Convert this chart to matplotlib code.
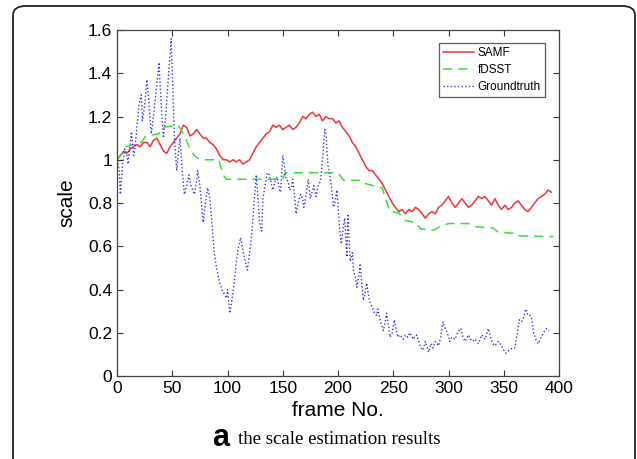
import matplotlib.pyplot as plt
from matplotlib.patches import FancyBboxPatch

# SAMF estimated scale
samf_frame = [0, 3, 6, 9, 12, 15, 18, 21, 24, 27, 30, 33, 36, 39, 42, 45, 48, 51, 54, 57,
              60, 63, 66, 69, 72, 75, 78, 81, 84, 87, 90, 93, 96, 99, 102, 105, 108, 111, 114, 117,
              120, 123, 126, 129, 132, 135, 138, 141, 144, 147, 150, 153, 156, 159, 162, 165, 168, 171, 174, 177,
              180, 183, 186, 189, 192, 195, 198, 201, 204, 207, 210, 213, 216, 219, 222, 225, 228, 231, 234, 237,
              240, 243, 246, 249, 252, 255, 258, 261, 264, 267, 270, 273, 276, 279, 282, 285, 288, 291, 294, 297,
              300, 303, 306, 309, 312, 315, 318, 321, 324, 327, 330, 333, 336, 339, 342, 345, 348, 351, 354, 357,
              360, 363, 366, 369, 372, 375, 378, 381, 384, 387, 390, 393]
samf_scale = [1.00, 1.02, 1.04, 1.03, 1.05, 1.06, 1.07, 1.06, 1.08, 1.08, 1.06, 1.09, 1.10, 1.07, 1.04, 1.03, 1.06, 1.08, 1.10, 1.12,
              1.16, 1.15, 1.11, 1.12, 1.14, 1.12, 1.10, 1.10, 1.08, 1.07, 1.05, 1.02, 1.00, 1.00, 0.99, 1.00, 0.99, 1.00, 0.98, 0.99,
              1.00, 1.03, 1.06, 1.08, 1.10, 1.12, 1.13, 1.16, 1.15, 1.16, 1.14, 1.15, 1.16, 1.14, 1.15, 1.17, 1.20, 1.19, 1.21, 1.22,
              1.20, 1.21, 1.18, 1.20, 1.19, 1.19, 1.17, 1.18, 1.15, 1.13, 1.11, 1.08, 1.06, 1.03, 1.00, 0.97, 0.95, 0.95, 0.93, 0.91,
              0.89, 0.86, 0.83, 0.80, 0.78, 0.76, 0.77, 0.75, 0.77, 0.76, 0.78, 0.77, 0.75, 0.73, 0.75, 0.76, 0.75, 0.78, 0.79, 0.81,
              0.83, 0.80, 0.78, 0.80, 0.82, 0.80, 0.78, 0.79, 0.81, 0.83, 0.82, 0.83, 0.81, 0.79, 0.82, 0.79, 0.77, 0.79, 0.77, 0.78,
              0.80, 0.81, 0.79, 0.77, 0.76, 0.78, 0.80, 0.82, 0.83, 0.84, 0.86, 0.85]

# fDSST estimated scale (step-like)
fdsst_frame = [0, 5, 8, 15, 22, 26, 38, 42, 55, 58, 62, 66, 70, 75, 92, 96, 99, 150, 152, 200,
               205, 222, 225, 232, 240, 243, 247, 255, 260, 270, 275, 287, 292, 300, 318, 325, 340, 345, 360, 363, 395]
fdsst_scale = [1.00, 1.03, 1.06, 1.07, 1.08, 1.11, 1.12, 1.15, 1.16, 1.14, 1.10, 1.05, 1.02, 1.00, 1.00, 0.93, 0.91, 0.91, 0.94, 0.94,
               0.905, 0.905, 0.89, 0.88, 0.87, 0.82, 0.76, 0.755, 0.72, 0.71, 0.68, 0.675, 0.69, 0.705, 0.705, 0.69, 0.685, 0.665, 0.66, 0.648, 0.645]

# ground truth scale
gt_frame = [0, 2, 3, 5, 7, 9, 10, 12, 13, 15, 16, 18, 20, 22, 23, 25, 27, 29, 31, 33,
            35, 38, 40, 42, 44, 46, 49, 51, 52, 54, 56, 57, 59, 61, 63, 65, 67, 70, 72, 73,
            75, 78, 80, 82, 84, 86, 88, 90, 93, 95, 97, 99, 100, 102, 104, 106, 108, 110, 112, 114,
            116, 118, 120, 122, 124, 126, 128, 129, 131, 132, 134, 136, 138, 140, 141, 143, 145, 147, 148, 150,
            152, 153, 155, 156, 158, 159, 161, 162, 164, 166, 168, 169, 170, 172, 173, 175, 177, 178, 180, 182,
            184, 186, 188, 189, 191, 192, 194, 196, 197, 199, 200, 202, 203, 205, 206, 208, 209, 211, 213, 214,
            216, 217, 219, 220, 222, 223, 225, 226, 228, 229, 231, 233, 235, 236, 238, 241, 243, 244, 246, 247,
            249, 251, 253, 254, 256, 259, 261, 263, 265, 268, 271, 273, 275, 277, 279, 282, 284, 286, 288, 291,
            293, 295, 297, 299, 301, 303, 306, 308, 311, 313, 315, 318, 320, 322, 324, 327, 330, 333, 336, 338,
            340, 342, 345, 348, 350, 352, 355, 358, 360, 362, 364, 366, 368, 370, 372, 374, 375, 377, 379, 381,
            383, 385, 387, 389, 391]
gt_scale = [1.00, 0.95, 0.84, 0.98, 1.05, 1.02, 0.98, 1.08, 1.13, 1.02, 1.04, 1.15, 1.26, 1.30, 1.18, 1.25, 1.37, 1.25, 1.12, 1.20,
            1.30, 1.45, 1.25, 1.10, 1.20, 1.35, 1.56, 1.25, 1.10, 0.95, 1.05, 1.10, 0.95, 0.84, 0.88, 0.93, 0.88, 0.84, 0.90, 0.95,
            0.88, 0.71, 0.80, 0.87, 0.82, 0.70, 0.57, 0.50, 0.43, 0.40, 0.38, 0.36, 0.40, 0.29, 0.35, 0.43, 0.53, 0.60, 0.64, 0.58,
            0.53, 0.49, 0.57, 0.66, 0.80, 0.93, 0.78, 0.71, 0.67, 0.82, 0.88, 0.94, 0.93, 0.88, 0.86, 0.90, 0.92, 0.86, 0.85, 1.02,
            0.95, 0.91, 0.90, 0.86, 0.87, 0.91, 0.82, 0.75, 0.80, 0.84, 0.82, 0.78, 0.80, 0.87, 0.91, 0.82, 0.86, 0.88, 0.83, 0.88,
            0.90, 1.00, 1.14, 1.12, 0.97, 0.95, 0.88, 0.78, 0.80, 0.86, 0.78, 0.65, 0.61, 0.70, 0.73, 0.55, 0.75, 0.53, 0.57, 0.49,
            0.45, 0.41, 0.47, 0.52, 0.40, 0.35, 0.40, 0.43, 0.36, 0.34, 0.32, 0.29, 0.28, 0.31, 0.26, 0.21, 0.26, 0.29, 0.22, 0.18,
            0.20, 0.26, 0.21, 0.18, 0.19, 0.17, 0.19, 0.18, 0.20, 0.17, 0.19, 0.16, 0.13, 0.12, 0.16, 0.11, 0.15, 0.13, 0.16, 0.14,
            0.18, 0.25, 0.22, 0.20, 0.16, 0.18, 0.17, 0.20, 0.22, 0.18, 0.16, 0.19, 0.17, 0.16, 0.17, 0.15, 0.19, 0.17, 0.22, 0.18,
            0.15, 0.14, 0.16, 0.14, 0.12, 0.105, 0.12, 0.13, 0.13, 0.19, 0.26, 0.25, 0.27, 0.31, 0.28, 0.28, 0.27, 0.20, 0.17, 0.15,
            0.17, 0.19, 0.21, 0.22, 0.21]

x_ticks = [0, 50, 100, 150, 200, 250, 300, 350, 400]
y_ticks = [0, 0.2, 0.4, 0.6, 0.8, 1.0, 1.2, 1.4, 1.6]
y_tick_labels = ['0', '0.2', '0.4', '0.6', '0.8', '1', '1.2', '1.4', '1.6']

plt.rcParams['font.family'] = ['Liberation Sans', 'DejaVu Sans']

fig = plt.figure(figsize=(6.37, 4.59), dpi=100)
ax = fig.add_axes([0.1837, 0.1808, 0.6939, 0.7538])

ax.plot(samf_frame, samf_scale, color='#f03535', linewidth=1.1, label='SAMF')
ax.plot(fdsst_frame, fdsst_scale, color='#35e035', linewidth=1.1, linestyle=(0, (6, 4)), label='fDSST')
ax.plot(gt_frame, gt_scale, color='#3535f0', linewidth=1.0, linestyle=(0, (1, 1.6)), label='Groundtruth')

ax.set_xlim(0, 400)
ax.set_ylim(0, 1.6)
ax.set_xticks(x_ticks)
ax.set_yticks(y_ticks)
ax.set_yticklabels(y_tick_labels)
ax.tick_params(direction='in', top=True, right=True, length=4, labelsize=12.5, colors='#333333')
ax.tick_params(labelcolor='black')
for s in ax.spines.values():
    s.set_color('#444444')
    s.set_linewidth(0.9)
ax.set_xlabel('frame No.', fontsize=15, labelpad=4)
ax.set_ylabel('scale', fontsize=15, labelpad=8)

leg = ax.legend(loc='upper right', bbox_to_anchor=(0.968, 0.962), fontsize=8.5, frameon=True,
                fancybox=False, handlelength=2.6, handletextpad=0.3, borderpad=0.35,
                labelspacing=0.4, borderaxespad=0)
leg.get_frame().set_edgecolor('#333333')
leg.get_frame().set_linewidth(0.9)

# caption under the chart
fig.text(0.346, 0.012, 'a', fontsize=22, fontweight='bold', ha='center', va='bottom')
fig.text(0.373, 0.024, 'the scale estimation results', fontsize=13.6, family='Liberation Serif',
         ha='left', va='bottom')

# outer rounded frame
frame = FancyBboxPatch((13 / 637, -0.1), (635 - 13) / 637, 1.1 - 6 / 459,
                       boxstyle='round,pad=0,rounding_size=0.02', transform=fig.transFigure,
                       facecolor='none', edgecolor='#222222', linewidth=1.3)
fig.patches.append(frame)

fig.savefig('out.png', dpi=100)
